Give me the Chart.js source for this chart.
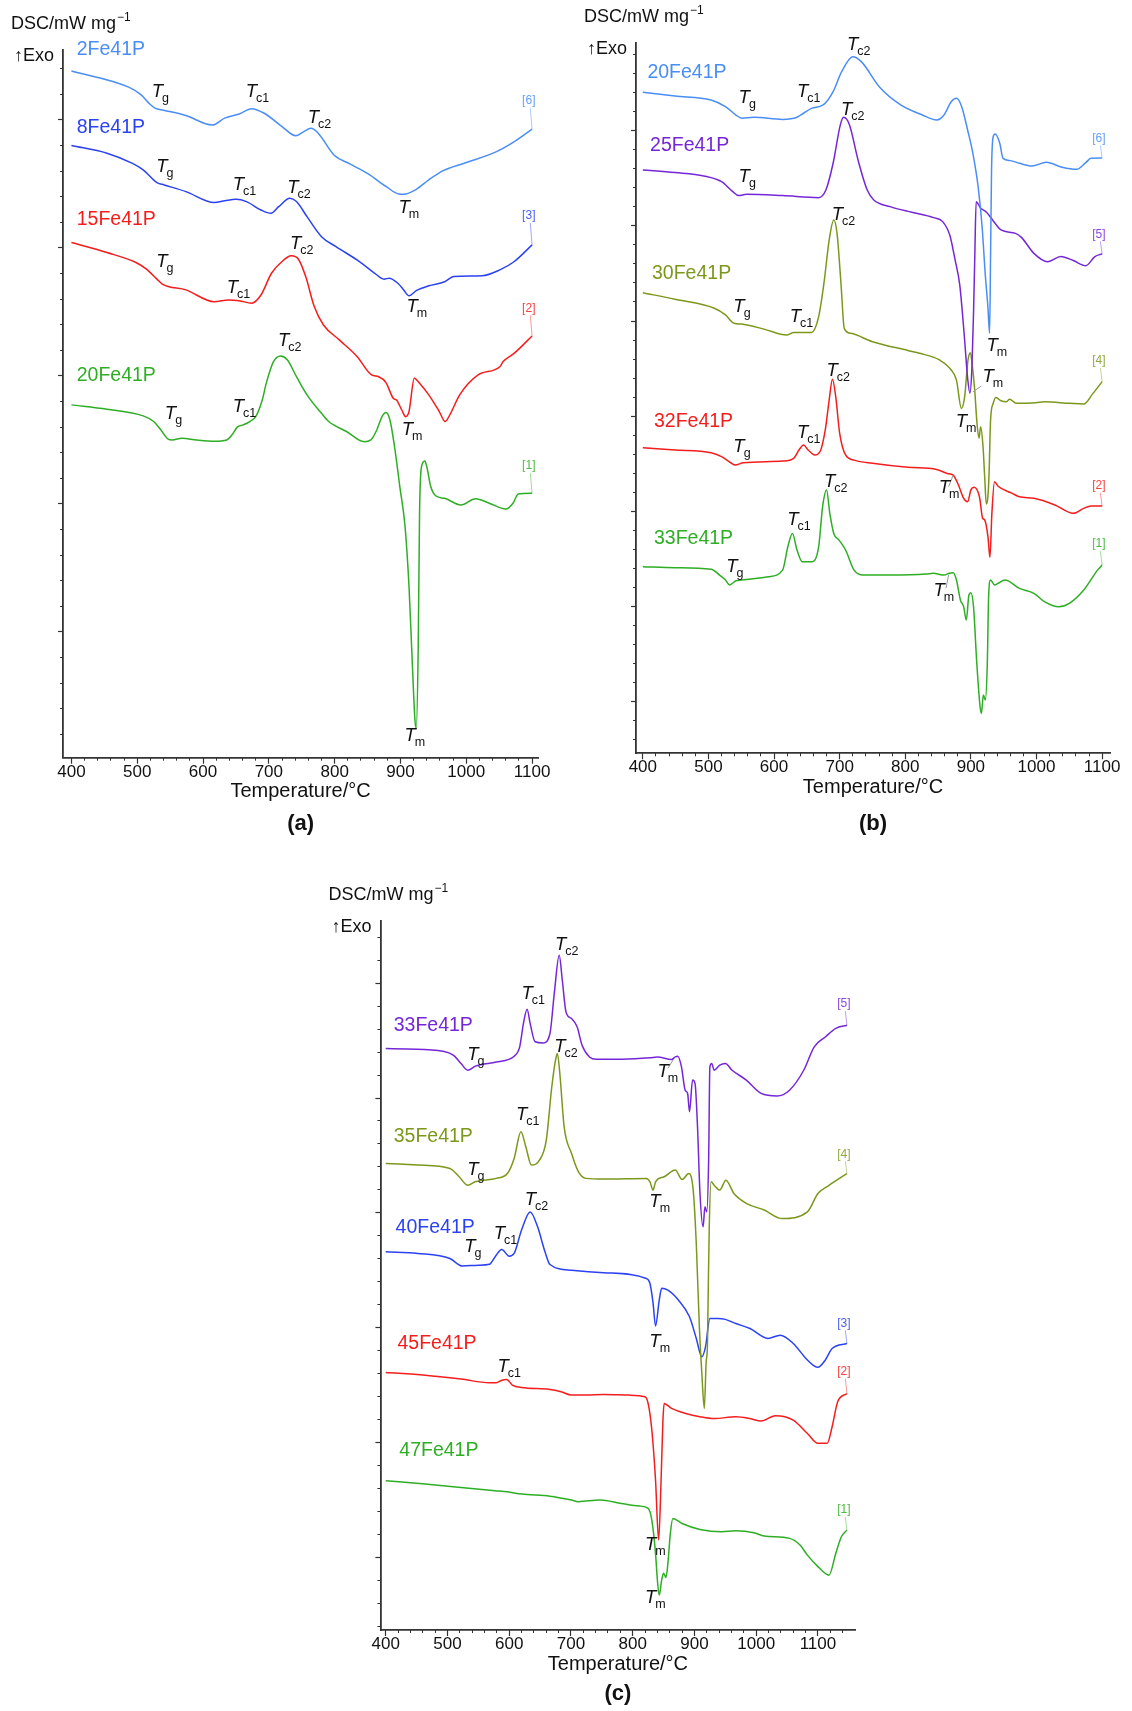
<!DOCTYPE html>
<html>
<head>
<meta charset="utf-8">
<title>DSC curves of Fe41P glasses</title>
<script src="https://cdn.jsdelivr.net/npm/chart.js@4.4.1/dist/chart.umd.min.js"></script>
<style>
  html, body { margin: 0; padding: 0; background: #fff; }
  #page { position: relative; width: 1132px; height: 1711px; overflow: hidden; background: #fff; }
  #page canvas { position: absolute; left: 0; top: 0; }
</style>
</head>
<body>
<div id="page">
  <canvas id="panelA" width="1132" height="1711"></canvas>
  <canvas id="panelB" width="1132" height="1711"></canvas>
  <canvas id="panelC" width="1132" height="1711"></canvas>
</div>
<script>
// ---------- tick values ----------
const X_MAJOR = [400, 500, 600, 700, 800, 900, 1000, 1100];
const A_Y_MAJOR = [5, 10, 15, 20, 25];
const B_Y_MAJOR = [5, 10, 15, 20, 25, 30, 35];
const C_Y_MAJOR = [5, 10, 15, 20, 25, 30];

// ---------- panel (a): [temperature °C, DSC signal (offset, a.u.)] ----------
const A_2FE41P = [[400,26.91],[487,26.28],[506,25.98],[519,25.62],[527,25.46],[540,25.38],[574,25.17],[614,24.80],[633,25.07],[655,25.23],[674,25.44],[693,25.26],[720,24.74],[741,24.38],[753,24.54],[764,24.67],[775,24.48],[799,23.63],[823,23.28],[851,22.89],[878,22.40],[897,22.11],[905,22.10],[924,22.29],[943,22.66],[965,23.02],[997,23.31],[1046,23.76],[1073,24.15],[1100,24.64]];
const A_8FE41P = [[400,24.00],[454,23.70],[492,23.31],[509,23.05],[530,22.55],[541,22.46],[574,22.20],[617,21.77],[633,21.84],[650,21.90],[666,21.81],[688,21.48],[703,21.35],[715,21.61],[732,21.94],[742,21.81],[758,21.22],[780,20.44],[802,20.05],[834,19.53],[861,19.01],[875,18.78],[883,18.82],[896,18.62],[905,18.36],[913,18.13],[924,18.33],[943,18.52],[967,18.68],[981,18.88],[1024,18.91],[1051,19.14],[1073,19.47],[1100,20.12]];
const A_15FE41P = [[400,20.21],[454,19.82],[498,19.43],[514,19.17],[530,18.78],[538,18.59],[574,18.36],[617,17.90],[639,17.97],[655,17.94],[674,17.84],[688,18.16],[704,19.01],[720,19.47],[734,19.69],[745,19.56],[756,18.88],[769,17.71],[783,16.99],[807,16.41],[834,15.76],[856,15.04],[867,14.97],[878,14.74],[889,14.13],[894,14.06],[902,13.67],[908,13.41],[913,13.61],[921,14.91],[929,14.71],[943,14.26],[959,13.61],[968,13.22],[975,13.48],[990,14.26],[1018,15.04],[1051,15.36],[1056,15.56],[1073,15.89],[1100,16.56]];
const A_20FE41P = [[400,13.87],[454,13.70],[509,13.44],[525,13.22],[536,12.89],[547,12.53],[553,12.50],[568,12.57],[590,12.50],[617,12.45],[636,12.50],[644,12.70],[652,13.00],[661,13.09],[671,13.22],[680,13.41],[690,14.06],[696,14.71],[707,15.56],[718,15.78],[728,15.63],[742,14.97],[758,14.26],[780,13.54],[791,13.22],[818,12.83],[845,12.43],[855,12.50],[864,12.89],[872,13.41],[878,13.57],[884,13.28],[891,12.24],[899,10.68],[907,9.11],[913,6.77],[918,3.78],[922,1.56],[924,1.24],[927,4.43],[929,9.64],[932,11.46],[937,11.68],[940,11.46],[946,10.68],[954,10.31],[967,10.22],[992,9.96],[1014,10.20],[1035,10.03],[1060,9.80],[1071,10.03],[1079,10.39],[1100,10.42]];

// ---------- panel (b) ----------
const B_20FE41P = [[400,37.04],[449,36.84],[504,36.63],[526,36.28],[542,35.84],[551,35.67],[569,35.72],[613,35.61],[635,35.72],[646,35.96],[657,36.19],[676,36.40],[690,37.07],[703,38.12],[720,38.91],[733,38.65],[761,37.30],[793,36.37],[826,35.84],[848,35.58],[859,35.84],[870,36.54],[878,36.72],[886,36.28],[895,35.05],[903,33.82],[911,32.07],[917,30.00],[922,27.40],[926,25.70],[928.5,24.35],[930,28.50],[931.5,33.00],[934,34.70],[937,34.84],[944,34.35],[949,33.56],[960,33.44],[974,33.30],[993,33.16],[1015,33.35],[1039,33.09],[1061,32.98],[1075,33.33],[1083,33.56],[1100,33.58]];
const B_25FE41P = [[400,32.95],[449,32.81],[493,32.63],[520,32.33],[537,31.81],[546,31.60],[558,31.67],[613,31.60],[668,31.49],[679,31.89],[690,33.30],[701,35.32],[706,35.72],[715,35.32],[728,33.47],[742,31.89],[752,31.37],[777,31.02],[810,30.72],[843,30.44],[857,30.23],[868,29.50],[876,28.20],[883,26.90],[890,24.20],[895,22.00],[898.5,21.20],[901.5,22.50],[904,25.40],[906,28.50],[908,31.28],[915,30.93],[923,30.75],[933,30.32],[946,29.79],[968,29.61],[977,29.40],[996,28.56],[1017,28.12],[1037,28.39],[1056,28.18],[1075,27.91],[1089,28.39],[1100,28.53]];
const B_30FE41P = [[400,26.49],[449,26.14],[509,25.67],[526,25.32],[539,24.88],[550,24.84],[586,24.56],[619,24.26],[630,24.39],[657,24.40],[668,25.23],[676,26.98],[684,29.26],[691,30.32],[696,29.61],[702,26.98],[707,24.61],[717,24.35],[750,23.91],[804,23.45],[822,23.30],[852,22.95],[870,22.42],[878,21.89],[885.5,20.40],[890.5,21.02],[895.6,22.95],[899.2,23.33],[902.3,22.60],[905.8,21.37],[909.3,19.61],[912.4,18.83],[914.9,19.44],[918.5,18.38],[921,16.80],[923.5,15.37],[926,15.80],[927.7,16.98],[930,19.79],[934,20.67],[938,20.98],[946,20.80],[954,20.75],[959,20.88],[969,20.67],[999,20.70],[1012,20.75],[1050,20.67],[1072,20.63],[1086,21.19],[1100,21.81]];
const B_32FE41P = [[400,18.33],[449,18.21],[504,18.07],[520,17.86],[534,17.54],[541,17.42],[553,17.54],[613,17.63],[630,17.77],[638,18.21],[645,18.47],[652,18.21],[662,17.95],[670,18.12],[678,19.26],[684,20.84],[689,21.93],[694,21.02],[700,19.09],[709,17.95],[722,17.68],[750,17.51],[804,17.30],[848,17.19],[864,16.98],[873,16.89],[881,16.37],[889,15.67],[895,15.49],[900,16.11],[905,16.25],[913,15.75],[918,14.61],[921,14.53],[926,13.65],[929,12.56],[932,14.88],[936,16.54],[941,16.32],[963,15.93],[974,15.75],[996,15.67],[1028,15.32],[1056,14.88],[1072,15.14],[1083,15.26],[1100,15.26]];
const B_33FE41P = [[400,12.07],[449,12.02],[504,11.93],[517,11.63],[526,11.37],[532,11.11],[542,11.33],[558,11.40],[591,11.54],[613,11.89],[621,13.12],[628,13.82],[635,12.95],[643,12.33],[657,12.33],[668,13.12],[674,15.23],[680,16.11],[685,14.88],[691,13.82],[699,13.47],[709,12.95],[722,11.89],[736,11.63],[777,11.63],[832,11.68],[843,11.72],[859,11.63],[867,11.72],[873,11.75],[878,11.37],[884,10.32],[889,9.96],[893,9.26],[897,10.58],[900,10.70],[904,9.96],[909,6.98],[914,4.70],[916,4.35],[919,5.32],[922,5.05],[925,6.98],[927,10.49],[930,11.37],[936,11.11],[941,11.19],[952,11.37],[974,10.93],[996,10.67],[1012,10.23],[1034,9.96],[1050,10.14],[1072,10.84],[1093,11.89],[1100,12.16]];

// ---------- panel (c) ----------
const C_33FE41P = [[400,27.16],[435,27.13],[493,27.04],[510,26.86],[522,26.50],[533,26.21],[545,26.39],[579,26.57],[608,26.82],[617,27.23],[623,28.24],[629,28.87],[634,28.24],[642,27.45],[655,27.40],[666,27.81],[673,29.55],[681,31.22],[686,30.13],[692,28.75],[701,28.46],[710,28.10],[718,27.30],[730,26.79],[741,26.69],[782,26.69],[828,26.75],[840,26.79],[863,26.68],[869,26.79],[873,26.82],[879,26.36],[885,25.34],[889,25.20],[892,24.40],[897,25.78],[901,25.63],[905,23.74],[909,20.84],[914,19.39],[917,20.26],[920,20.04],[923,22.29],[925,26.36],[928,26.50],[932,26.21],[941,26.43],[950,26.50],[961,26.21],[984,25.78],[1008,25.20],[1034,25.09],[1054,25.34],[1077,26.21],[1094,27.23],[1112,27.66],[1129,28.03],[1147,28.17]];
const C_35FE41P = [[400,22.15],[452,22.08],[504,21.93],[519,21.57],[533,21.20],[545,21.35],[579,21.50],[597,21.71],[608,22.37],[619,23.53],[627,22.87],[636,22.08],[649,22.29],[660,23.16],[669,25.49],[675,26.65],[678,26.94],[682,26.07],[689,23.74],[701,22.58],[712,21.79],[724,21.50],[753,21.47],[822,21.50],[828,21.35],[833,20.99],[837,21.35],[851,21.57],[869,21.86],[880,21.45],[891,21.71],[898,20.99],[903,18.66],[908,15.03],[912,13.00],[916,11.48],[919,13.50],[921,14.17],[922,15.90],[924,19.39],[927,21.35],[932,21.20],[941,20.99],[951,21.42],[964,20.84],[984,20.41],[1013,20.12],[1042,19.75],[1083,20.04],[1100,20.84],[1118,21.20],[1147,21.71]];
const C_40FE41P = [[400,18.30],[452,18.23],[504,18.01],[524,17.68],[550,17.72],[568,17.76],[577,18.08],[588,18.40],[600,18.11],[608,18.23],[620,19.25],[634,20.04],[646,19.39],[658,18.30],[666,17.75],[701,17.50],[753,17.39],[822,17.14],[828,16.92],[833,16.07],[837,15.07],[843,16.20],[847,16.71],[857,16.63],[874,16.20],[892,15.47],[903,14.53],[912,13.73],[918,14.17],[925,15.40],[938,15.40],[950,15.36],[967,15.18],[990,14.96],[1019,14.53],[1039,14.67],[1060,14.31],[1083,13.59],[1100,13.27],[1112,13.59],[1123,14.09],[1147,14.31]];
const C_45FE41P = [[400,13.05],[464,12.93],[522,12.76],[568,12.60],[579,12.60],[588,12.71],[596,12.74],[605,12.50],[620,12.39],[666,12.31],[684,12.21],[701,12.06],[724,12.06],[753,12.09],[794,12.06],[820,11.99],[825,11.70],[831,10.54],[837,8.36],[842,5.75],[846,8.36],[849,10.97],[851,11.70],[863,11.48],[886,11.26],[909,11.12],[932,11.04],[967,11.12],[990,11.04],[1008,10.93],[1031,11.16],[1060,10.97],[1083,10.39],[1100,9.96],[1115,9.96],[1123,10.68],[1132,11.77],[1147,12.13]];
const C_47FE41P = [[400,8.33],[464,8.19],[522,8.04],[577,7.90],[597,7.85],[620,7.75],[666,7.66],[701,7.49],[712,7.42],[747,7.49],[782,7.34],[811,7.23],[825,7.13],[831,6.62],[837,5.17],[840,4.01],[843,3.35],[847,4.01],[850,4.30],[854,4.12],[857,4.73],[861,6.04],[865,6.69],[880,6.47],[909,6.21],[944,6.11],[967,6.15],[996,6.07],[1013,5.92],[1054,5.82],[1071,5.53],[1083,5.09],[1100,4.59],[1118,4.22],[1129,5.17],[1138,5.89],[1147,6.18]];

// ---------- labels: sample names, curve numbers, characteristic temperatures ----------
const A_NAMES = ['2Fe41P', '8Fe41P', '15Fe41P', '20Fe41P'];
const B_NAMES = ['20Fe41P', '25Fe41P', '30Fe41P', '32Fe41P', '33Fe41P'];
const C_NAMES = ['33Fe41P', '35Fe41P', '40Fe41P', '45Fe41P', '47Fe41P'];
const A_CURVE_NO = [6, 3, 2, 1];
const B_CURVE_NO = [6, 5, 4, 2, 1];
const C_CURVE_NO = [5, 4, 3, 2, 1];

// label anchors in data units [°C, signal]
const A_NAME_AT = [[408, 27.73], [408, 24.70], [408, 21.09], [408, 15.00]];
const B_NAME_AT = [[407, 38.07], [411, 34.23], [414, 27.51], [417, 19.70], [417, 13.56]];
const C_NAME_AT = [[413, 28.17], [413, 23.31], [416, 19.36], [419, 14.31], [422, 9.64]];
const A_NO_AT = [[1095, 25.74], [1095, 21.25], [1095, 17.64], [1095, 11.48]];
const B_NO_AT = [[1095, 34.61], [1095, 29.56], [1095, 22.89], [1095, 16.32], [1095, 13.26]];
const C_NO_AT = [[1142, 29.09], [1142, 22.55], [1142, 15.18], [1142, 13.08], [1142, 7.05]];

// [subscript, °C, signal] — baseline of the italic T
const A_MARKS = [
  ['g', 522, 25.91], ['c1', 665, 25.91], ['c2', 759, 24.87], ['m', 897, 21.35],
  ['g', 529, 22.98], ['c1', 645, 22.27], ['c2', 728, 22.16], ['m', 909, 17.51],
  ['g', 529, 19.27], ['c1', 636, 18.23], ['c2', 732, 19.95], ['m', 902, 12.70],
  ['g', 542, 13.31], ['c1', 645, 13.61], ['c2', 714, 16.15], ['m', 906, 0.74]
];
const B_MARKS = [
  ['g', 546, 36.46], ['c1', 635, 36.81], ['c2', 711, 39.26], ['m', 923.6, 23.44],
  ['g', 546, 32.33], ['c2', 702, 35.84], ['m', 917.5, 21.81],
  ['g', 538, 25.49], ['c1', 624, 24.96], ['c2', 688, 30.32], ['m', 876.8, 19.44],
  ['g', 538, 18.12], ['c1', 635, 18.82], ['c2', 680, 22.11], ['m', 851, 15.93],
  ['g', 527, 11.81], ['c1', 620, 14.26], ['c2', 676, 16.28], ['m', 843, 10.53]
];
const C_MARKS = [
  ['g', 532, 26.65], ['c1', 620, 29.33], ['c2', 674, 31.44], ['m', 840, 25.92],
  ['g', 532, 21.64], ['c1', 611, 24.03], ['c2', 673, 27.01], ['m', 827, 20.26],
  ['g', 527, 18.30], ['c1', 575, 18.88], ['c2', 625, 20.33], ['m', 827, 14.17],
  ['c1', 581, 13.08], ['m', 820, 5.31],
  ['m', 820, 2.99]
];
// pointer lines from a melting event to its label: [from °C, from signal, to °C, to signal]
const A_POINTERS = [];
const B_POINTERS = [[903.3, 21.28, 916, 21.58], [873, 16.89, 866, 16.28], [866, 11.63, 862, 10.93]];
const C_POINTERS = [[866, 26.68, 857, 26.29]];

// ---------- styling ----------
const COLORS = {
  lightBlue: '#4a8ef5', blue: '#2b42f2', red: '#f41d1d',
  green: '#2eae25', olive: '#7b981c', purple: '#7527d8'
};
const FAMILY = '"Liberation Sans", Arial, Helvetica, sans-serif';
const AXIS_COLOR = '#333';
const X_AXIS_BAND = 40;   // room kept under the plot for the tick labels

function steps(from, to, step) {
  const out = [];
  for (let v = from; v <= to + 1e-9; v += step) out.push(Math.round(v * 1000) / 1000);
  return out;
}

function buildSeries(names, colors, data, nameAt, numbers, numberAt) {
  return names.map((name, i) => ({
    name, color: colors[i], data: data[i], nameAt: nameAt[i], no: numbers[i], noAt: numberAt[i]
  }));
}

function drawTemperatureMark(ctx, sub, x, y) {
  ctx.textAlign = 'left';
  ctx.textBaseline = 'alphabetic';
  ctx.fillStyle = '#111';
  ctx.font = 'italic 18.5px ' + FAMILY;
  ctx.fillText('T', x, y);
  const w = ctx.measureText('T').width;
  ctx.font = '12.5px ' + FAMILY;
  ctx.fillText(sub, x + w - 1, y + 5);
}

function panelTextPlugin(panel) {
  return {
    id: 'panelText',
    afterDatasetsDraw(chart) {
      const ctx = chart.ctx;
      const area = chart.chartArea;
      const sx = chart.scales.x, sy = chart.scales.y;
      const px = v => sx.getPixelForValue(v);
      const py = v => sy.getPixelForValue(v);
      ctx.save();

      // sample names
      panel.series.forEach(s => {
        ctx.font = '19.5px ' + FAMILY;
        ctx.fillStyle = s.color;
        ctx.textAlign = 'left';
        ctx.textBaseline = 'middle';
        ctx.fillText(s.name, px(s.nameAt[0]), py(s.nameAt[1]));
      });

      // curve numbers with their thin connector to the curve end
      panel.series.forEach(s => {
        const lx = px(s.noAt[0]), ly = py(s.noAt[1]);
        const end = s.data[s.data.length - 1];
        ctx.strokeStyle = s.color;
        ctx.globalAlpha = 0.45;
        ctx.lineWidth = 1;
        ctx.beginPath();
        ctx.moveTo(lx + 1.5, ly + 7);
        ctx.lineTo(px(end[0]), py(end[1]));
        ctx.stroke();
        ctx.globalAlpha = 0.85;
        ctx.font = '12px ' + FAMILY;
        ctx.fillStyle = s.color;
        ctx.textAlign = 'center';
        ctx.textBaseline = 'middle';
        ctx.fillText('[' + s.no + ']', lx, ly);
        ctx.globalAlpha = 1;
      });

      // pointer lines for melting labels
      ctx.strokeStyle = '#9a9a9a';
      ctx.lineWidth = 1;
      panel.pointers.forEach(p => {
        ctx.beginPath();
        ctx.moveTo(px(p[0]), py(p[1]));
        ctx.lineTo(px(p[2]), py(p[3]));
        ctx.stroke();
      });

      // characteristic temperatures
      panel.marks.forEach(m => drawTemperatureMark(ctx, m[0], px(m[1]), py(m[2])));

      // axis captions
      ctx.fillStyle = '#111';
      ctx.textBaseline = 'middle';
      ctx.textAlign = 'left';
      ctx.font = '18px ' + FAMILY;
      const dscX = area.left - 52, dscY = area.top - 26;
      ctx.fillText('DSC/mW mg', dscX, dscY);
      const dw = ctx.measureText('DSC/mW mg').width;
      ctx.font = '12px ' + FAMILY;
      ctx.fillText('\u22121', dscX + dw + 1, dscY - 6);

      ctx.font = '18px ' + FAMILY;
      ctx.textAlign = 'right';
      ctx.fillText('\u2191Exo', area.left - 9, area.top + 6);

      const mid = (area.left + area.right) / 2;
      ctx.textAlign = 'center';
      ctx.font = '20px ' + FAMILY;
      ctx.fillText('Temperature/\u00B0C', mid, area.bottom + 34);
      ctx.font = 'bold 22px ' + FAMILY;
      ctx.fillText(panel.letter, mid, area.bottom + panel.letterGap);

      ctx.restore();
    }
  };
}

function makePanel(panel) {
  const canvas = document.getElementById(panel.canvas);
  const W = canvas.width, H = canvas.height;
  const fixWidth = s => { s.width = 0; };
  const ticksFrom = list => s => { s.ticks = list.map(v => ({ value: v })); };

  return new Chart(canvas, {
    type: 'line',
    data: {
      datasets: panel.series.map(s => ({
        label: s.name,
        data: s.data.map(p => ({ x: p[0], y: p[1] })),
        borderColor: s.color,
        borderWidth: 1.5,
        pointRadius: 0,
        fill: false,
        cubicInterpolationMode: 'monotone'
      }))
    },
    options: {
      responsive: false,
      devicePixelRatio: 1,
      animation: false,
      events: [],
      layout: {
        padding: {
          left: panel.area.left,
          top: panel.area.top,
          right: W - panel.area.right,
          bottom: H - panel.area.bottom - X_AXIS_BAND
        }
      },
      plugins: { legend: { display: false }, tooltip: { enabled: false }, title: { display: false } },
      scales: {
        // minor ticks sit directly on the plot edge (lower weight = placed first)
        xMinor: {
          type: 'linear', position: 'bottom', weight: -1,
          min: panel.xRange[0], max: panel.xRange[1],
          afterBuildTicks: ticksFrom(panel.xMinor),
          afterFit: s => { s.height = 0; },
          ticks: { display: false },
          grid: { display: true, drawOnChartArea: false, drawTicks: true, tickLength: 3, tickColor: AXIS_COLOR, tickWidth: 1 },
          border: { display: false }
        },
        x: {
          type: 'linear', position: 'bottom', weight: 0,
          min: panel.xRange[0], max: panel.xRange[1],
          afterBuildTicks: ticksFrom(panel.xMajor),
          afterFit: s => { s.height = X_AXIS_BAND; },
          ticks: {
            autoSkip: false, maxRotation: 0, minRotation: 0, padding: 0, color: '#111',
            font: { family: FAMILY, size: 17, lineHeight: 1 },
            callback: v => String(v)
          },
          grid: { display: true, drawOnChartArea: false, drawTicks: true, tickLength: 6, tickColor: AXIS_COLOR, tickWidth: 1.2 },
          border: { display: true, color: AXIS_COLOR, width: 1.8 }
        },
        y: {
          type: 'linear', position: 'left',
          min: panel.yRange[0], max: panel.yRange[1],
          afterBuildTicks: ticksFrom(panel.yMajor),
          afterFit: fixWidth,
          ticks: { display: false },
          grid: { display: true, drawOnChartArea: false, drawTicks: true, tickLength: 5, tickColor: AXIS_COLOR, tickWidth: 1.2 },
          border: { display: true, color: AXIS_COLOR, width: 1.8 }
        },
        yMinor: {
          type: 'linear', position: 'left',
          min: panel.yRange[0], max: panel.yRange[1],
          afterBuildTicks: ticksFrom(panel.yMinor),
          afterFit: fixWidth,
          ticks: { display: false },
          grid: { display: true, drawOnChartArea: false, drawTicks: true, tickLength: 3, tickColor: AXIS_COLOR, tickWidth: 1 },
          border: { display: false }
        }
      }
    },
    plugins: [panelTextPlugin(panel)]
  });
}

const PANELS = [
  {
    canvas: 'panelA', letter: '(a)', letterGap: 66,
    area: { left: 63, top: 50, right: 538.2, bottom: 757.7 },
    xRange: [387.2, 1109.3], yRange: [0.09, 27.73],
    xMajor: X_MAJOR, xMinor: steps(400, 1100, 20),
    yMajor: A_Y_MAJOR, yMinor: steps(1, 27, 1),
    series: buildSeries(A_NAMES, [COLORS.lightBlue, COLORS.blue, COLORS.red, COLORS.green],
      [A_2FE41P, A_8FE41P, A_15FE41P, A_20FE41P], A_NAME_AT, A_CURVE_NO, A_NO_AT),
    marks: A_MARKS, pointers: A_POINTERS
  },
  {
    canvas: 'panelB', letter: '(b)', letterGap: 71,
    area: { left: 636, top: 43, right: 1110, bottom: 753.3 },
    xRange: [389.6, 1112], yRange: [2.25, 39.63],
    xMajor: X_MAJOR, xMinor: steps(400, 1100, 20),
    yMajor: B_Y_MAJOR, yMinor: steps(3, 39, 1),
    series: buildSeries(B_NAMES, [COLORS.lightBlue, COLORS.purple, COLORS.olive, COLORS.red, COLORS.green],
      [B_20FE41P, B_25FE41P, B_30FE41P, B_32FE41P, B_33FE41P], B_NAME_AT, B_CURVE_NO, B_NO_AT),
    marks: B_MARKS, pointers: B_POINTERS
  },
  {
    canvas: 'panelC', letter: '(c)', letterGap: 64,
    area: { left: 380.4, top: 921, right: 855.4, bottom: 1630 },
    xRange: [391.4, 1160.7], yRange: [1.83, 32.71],
    xMajor: X_MAJOR, xMinor: steps(400, 1140, 20),
    yMajor: C_Y_MAJOR, yMinor: steps(2, 32, 1),
    series: buildSeries(C_NAMES, [COLORS.purple, COLORS.olive, COLORS.blue, COLORS.red, COLORS.green],
      [C_33FE41P, C_35FE41P, C_40FE41P, C_45FE41P, C_47FE41P], C_NAME_AT, C_CURVE_NO, C_NO_AT),
    marks: C_MARKS, pointers: C_POINTERS
  }
];

PANELS.forEach(makePanel);
</script>
</body>
</html>
